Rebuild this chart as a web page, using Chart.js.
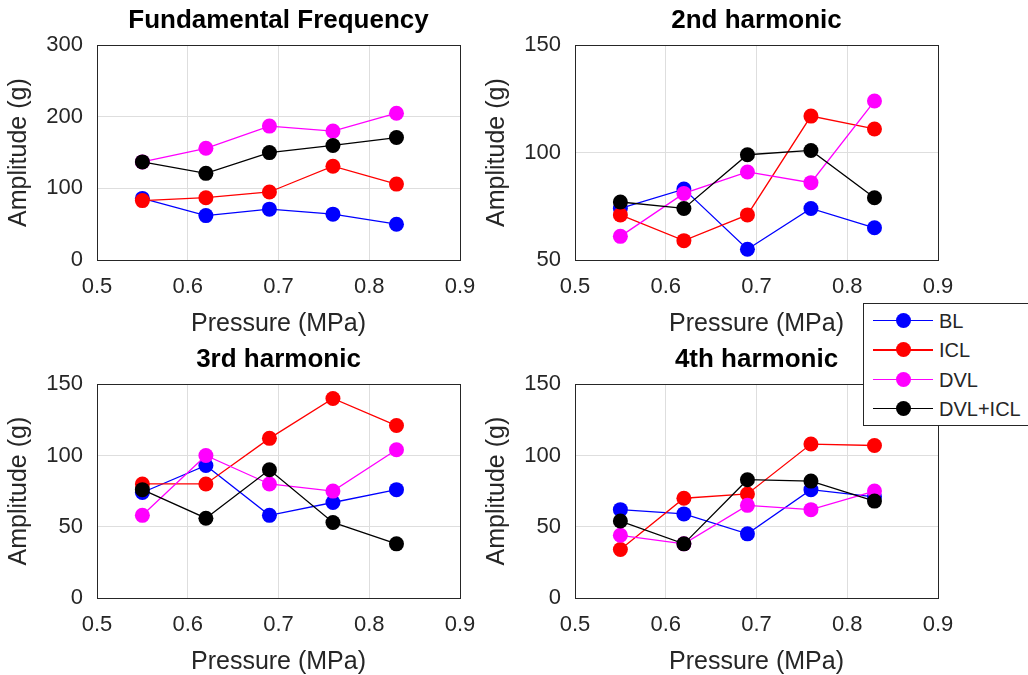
<!DOCTYPE html>
<html>
<head>
<meta charset="utf-8">
<script src="https://cdn.jsdelivr.net/npm/chart.js@4.4.1/dist/chart.umd.min.js"></script>
<style>
  body { margin: 0; width: 1028px; height: 675px; overflow: hidden; background: #fff; position: relative;
         font-family: "Liberation Sans", Arial, Helvetica, sans-serif; }
  canvas { position: absolute; }
  #legend { position: absolute; left: 863px; top: 303px; width: 172px; height: 121px; background: #fff;
            border: 1px solid #262626; z-index: 5; }
  #legend .row { position: absolute; left: 0; width: 170px; height: 24px; }
  #legend .ln { position: absolute; left: 9px; top: 11px; width: 60px; height: 1.3px; }
  #legend .dot { position: absolute; left: 32px; top: 4px; width: 15px; height: 15px; border-radius: 50%; }
  #legend .txt { position: absolute; left: 75px; top: 0; font-size: 20px; line-height: 24px; color: #262626; }
</style>
</head>
<body>
<canvas id="c1" width="500" height="340" style="left:0;top:0"></canvas>
<canvas id="c2" width="550" height="340" style="left:478px;top:0"></canvas>
<canvas id="c3" width="500" height="339" style="left:0;top:339px"></canvas>
<canvas id="c4" width="550" height="339" style="left:478px;top:339px"></canvas>
<div id="legend"></div>
<script>
// pressure values (MPa) where each condition was measured
const pressure = [0.55, 0.62, 0.69, 0.76, 0.83];
const seriesNames = ['BL', 'ICL', 'DVL', 'DVL+ICL'];
const colors = ['#0000ff', '#ff0000', '#ff00ff', '#000000'];
const xTicks = [0.5, 0.6, 0.7, 0.8, 0.9];

// amplitude (g) per harmonic, one array per condition
const fundBL = [86, 62, 71, 64, 50];
const fundICL = [83, 87, 95, 131, 106];
const fundDVL = [137, 156, 187, 180, 205];
const fundDVLICL = [137, 121, 150, 160, 171];
const fundTicks = [0, 100, 200, 300];

const h2BL = [74, 83, 55, 74, 65];
const h2ICL = [71, 59, 71, 117, 111];
const h2DVL = [61, 81, 91, 86, 124];
const h2DVLICL = [77, 74, 99, 101, 79];
const h2Ticks = [50, 100, 150];

const h3BL = [74, 93, 58, 67, 76];
const h3ICL = [80, 80, 112, 140, 121];
const h3DVL = [58, 100, 80, 75, 104];
const h3DVLICL = [76, 56, 90, 53, 38];
const h3Ticks = [0, 50, 100, 150];

const h4BL = [62, 59, 45, 76, 71];
const h4ICL = [34, 70, 73, 108, 107];
const h4DVL = [44, 38, 65, 62, 75];
const h4DVLICL = [54, 38, 83, 82, 68];
const h4Ticks = [0, 50, 100, 150];

const FONT = '"Liberation Sans", Arial, Helvetica, sans-serif';
const AXIS_COLOR = '#262626';
const GRID_COLOR = '#dedede';

// box around the plot area, like matlab's "box on"
const frame = {
  id: 'frame',
  beforeDatasetsDraw(chart) {
    const a = chart.chartArea;
    const ctx = chart.ctx;
    ctx.save();
    ctx.strokeStyle = AXIS_COLOR;
    ctx.lineWidth = 1;
    ctx.strokeRect(Math.round(a.left) + 0.5, Math.round(a.top) + 0.5,
      Math.round(a.right - a.left), Math.round(a.bottom - a.top));
    ctx.restore();
  }
};

function makeChart(id, title, series, yTicks, padRight, xAxisHeight) {
  const datasets = series.map((vals, i) => ({
    label: seriesNames[i],
    data: pressure.map((p, j) => ({ x: p, y: vals[j] })),
    borderColor: colors[i],
    backgroundColor: colors[i],
    borderWidth: 1.3,
    pointRadius: 7.5,
    pointHoverRadius: 7.5,
    pointBorderWidth: 0,
    pointBackgroundColor: colors[i],
    tension: 0,
    order: series.length - 1 - i
  }));

  return new Chart(document.getElementById(id), {
    type: 'line',
    data: { datasets: datasets },
    options: {
      responsive: false,
      animation: false,
      layout: { padding: { left: 0, right: padRight, top: 0, bottom: 0 } },
      plugins: {
        legend: { display: false },
        tooltip: { enabled: false },
        title: {
          display: true,
          text: title,
          fullSize: false,
          color: '#000',
          font: { family: FONT, size: 26, weight: 'bold' },
          padding: { top: 5, bottom: 9 }
        }
      },
      scales: {
        x: {
          type: 'linear',
          min: xTicks[0],
          max: xTicks[xTicks.length - 1],
          afterBuildTicks: s => { s.ticks = xTicks.map(v => ({ value: v })); },
          afterFit: s => { s.height = xAxisHeight; },
          ticks: { color: AXIS_COLOR, padding: 14, font: { family: FONT, size: 22 },
                   callback: v => v.toFixed(1) },
          grid: { color: GRID_COLOR, drawTicks: false },
          border: { display: false },
          title: { display: true, text: 'Pressure (MPa)', color: AXIS_COLOR,
                   font: { family: FONT, size: 25 }, padding: { top: 0, bottom: 1 } }
        },
        y: {
          type: 'linear',
          min: yTicks[0],
          max: yTicks[yTicks.length - 1],
          afterBuildTicks: s => { s.ticks = yTicks.map(v => ({ value: v })); },
          afterFit: s => { s.width = 97; },
          ticks: { color: AXIS_COLOR, padding: 14, font: { family: FONT, size: 22 } },
          grid: { color: GRID_COLOR, drawTicks: false },
          border: { display: false },
          title: { display: true, text: 'Amplitude (g)', color: AXIS_COLOR,
                   font: { family: FONT, size: 25 }, padding: { top: 4, bottom: 0 } }
        }
      }
    },
    plugins: [frame]
  });
}

makeChart('c1', 'Fundamental Frequency', [fundBL, fundICL, fundDVL, fundDVLICL], fundTicks, 40, 80);
makeChart('c2', '2nd harmonic', [h2BL, h2ICL, h2DVL, h2DVLICL], h2Ticks, 90, 80);
makeChart('c3', '3rd harmonic', [h3BL, h3ICL, h3DVL, h3DVLICL], h3Ticks, 40, 80);
makeChart('c4', '4th harmonic', [h4BL, h4ICL, h4DVL, h4DVLICL], h4Ticks, 90, 80);

// legend box overlapping the 4th panel
const legend = document.getElementById('legend');
seriesNames.forEach((name, i) => {
  const row = document.createElement('div');
  row.className = 'row';
  row.style.top = (5 + i * 29.3) + 'px';
  row.innerHTML = '<div class="ln" style="background:' + colors[i] + '"></div>' +
    '<div class="dot" style="background:' + colors[i] + '"></div>' +
    '<div class="txt">' + name + '</div>';
  legend.appendChild(row);
});
</script>
</body>
</html>
